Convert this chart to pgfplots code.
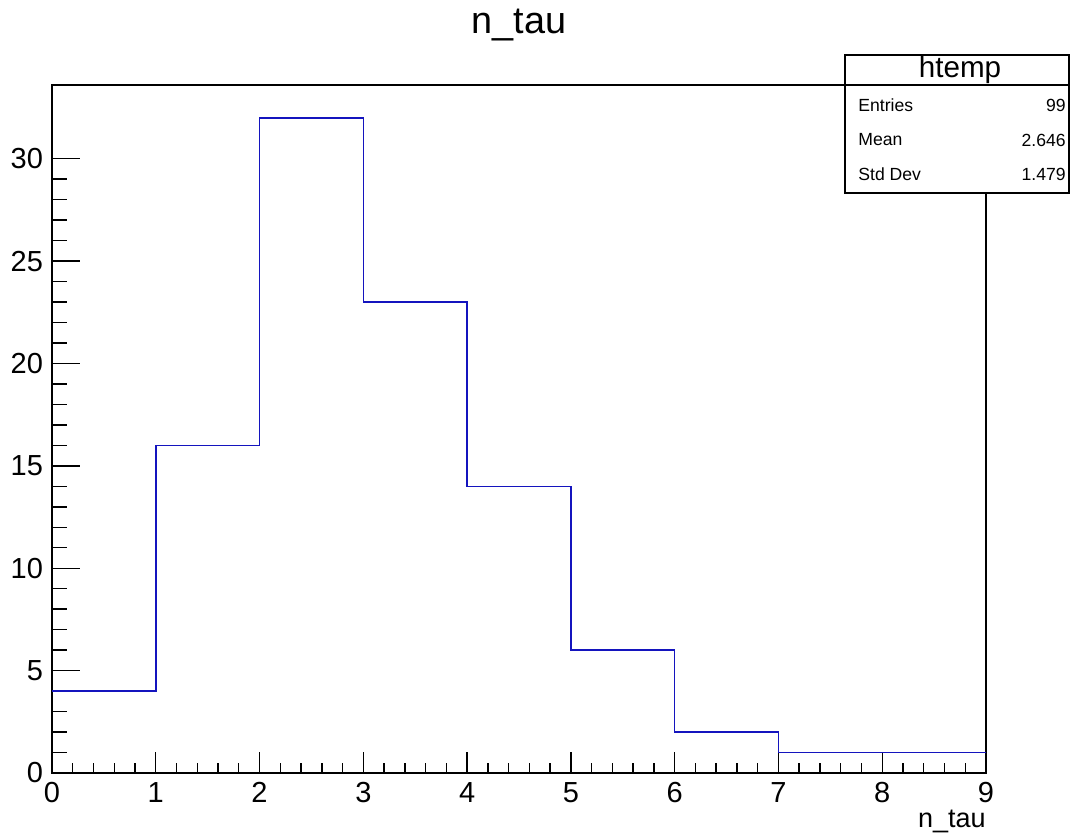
\documentclass[border=0pt]{standalone}
\usepackage{pgfplots}
\pgfplotsset{compat=1.18}
\usepackage{fontspec}
\setmainfont{Liberation Sans}
\definecolor{histblue}{RGB}{20,20,190}
\begin{document}
\begin{tikzpicture}[x=1pt,y=1pt]
\path[use as bounding box] (0,0) rectangle (537,416.5);
\begin{axis}[
  at={(26pt,30pt)}, anchor=south west,
  scale only axis, width=467pt, height=344pt,
  xmin=0, xmax=9, ymin=0, ymax=33.6,
  xtick={0,...,9}, ytick={0,5,...,30},
  minor x tick num=4, minor y tick num=4,
  xtick pos=left, ytick pos=left, tick align=inside,
  major tick length=14pt, minor tick length=7.5pt,
  xtick style={/pgfplots/major tick length=10.5pt,/pgfplots/minor tick length=5pt},
  tick style={draw=black, line width=0.7pt},
  minor tick style={draw=black, line width=0.7pt},
  axis line style={line width=0.7pt},
  /pgf/number format/assume math mode=true,
  ticklabel style={font=\fontsize{14.5}{17}\selectfont},
  xticklabel style={yshift=-1pt},
  yticklabel style={xshift=-1pt},
]
\addplot[const plot mark left, color=histblue, line width=0.8pt, mark=none]
  table {
x y
0 4
1 16
2 32
3 23
4 14
5 6
6 2
7 1
8 1
9 1
};
\end{axis}
\node[font=\fontsize{18.9}{22}\selectfont] at (259.5,404) {n\_tau};
\node[font=\fontsize{13.5}{16}\selectfont, anchor=base east, inner sep=0pt] at (493,2.5) {n\_tau};
\draw[fill=white, line width=0.7pt] (422.5,320) rectangle (534.5,389);
\draw[line width=0.7pt] (422.5,374) -- (534.5,374);
\node[font=\fontsize{14.8}{17}\selectfont] at (480,381.5) {htemp};
\begin{scope}[every node/.style={font=\fontsize{8.8}{10}\selectfont, inner sep=0pt}]
\node[anchor=west] at (429,364) {Entries};
\node[anchor=west] at (429,346.5) {Mean};
\node[anchor=west] at (429,329.5) {Std Dev};
\node[anchor=east] at (533,364) {99};
\node[anchor=east] at (533,346.5) {2.646};
\node[anchor=east] at (533,329.5) {1.479};
\end{scope}
\end{tikzpicture}
\end{document}
